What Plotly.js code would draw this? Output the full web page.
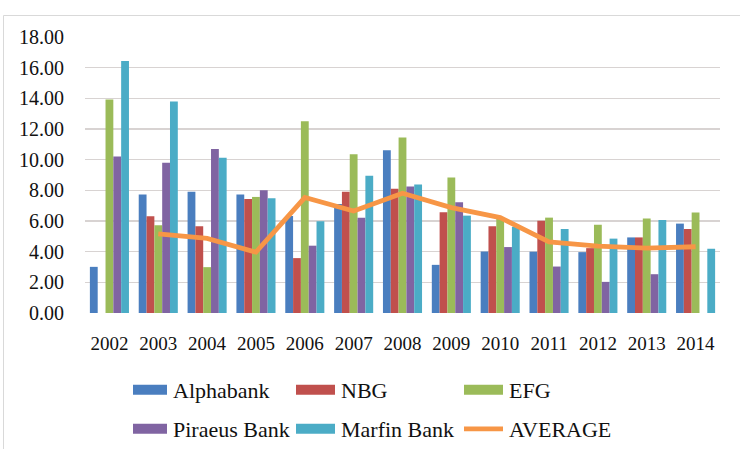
<!DOCTYPE html>
<html>
<head>
<meta charset="utf-8">
<script src="https://cdn.plot.ly/plotly-3.0.1.min.js"></script>
<style>
  html, body { margin: 0; padding: 0; background: #ffffff; }
  #chart { width: 740px; height: 449px; }
</style>
</head>
<body>
<div id="chart"></div>
<script>
const years = ['2002','2003','2004','2005','2006','2007','2008','2009','2010','2011','2012','2013','2014'];
const alphabank = [3.01, 7.73, 7.90, 7.73, 6.33, 7.11, 10.61, 3.14, 4.01, 4.00, 3.97, 4.93, 5.83];
const nbg       = [null, 6.31, 5.65, 7.44, 3.58, 7.90, 8.10, 6.57, 5.65, 6.02, 4.23, 4.93, 5.48];
const efg       = [13.92, 5.73, 2.99, 7.57, 12.50, 10.35, 11.44, 8.84, 6.16, 6.22, 5.76, 6.16, 6.55];
const piraeus   = [10.21, 9.80, 10.69, 8.01, 4.39, 6.22, 8.25, 7.22, 4.30, 3.03, 2.03, 2.53, null];
const marfin    = [16.43, 13.79, 10.13, 7.49, 5.98, 8.95, 8.38, 6.35, 5.63, 5.48, 4.85, 6.07, 4.19];
const average   = [null, 5.16, 4.87, 3.97, 7.53, 6.65, 7.81, 6.87, 6.22, 4.64, 4.36, 4.23, 4.32];
const yTicks = [0, 2, 4, 6, 8, 10, 12, 14, 16, 18];

const FONT = '"Liberation Serif"';

function barTrace(name, vals, color, legend) {
  return { type: 'bar', name: name, x: years, y: vals, marker: { color: color }, legend: legend, hoverinfo: 'x+y+name' };
}

const data = [
  barTrace('Alphabank', alphabank, '#4A7EBF', 'legend'),
  barTrace('NBG', nbg, '#C0504D', 'legend'),
  barTrace('EFG', efg, '#9BBB59', 'legend'),
  barTrace('Piraeus Bank', piraeus, '#8064A2', 'legend2'),
  barTrace('Marfin Bank', marfin, '#4BACC6', 'legend2'),
  { type: 'scatter', mode: 'lines', name: 'AVERAGE', x: years, y: average,
    line: { color: '#F79646', width: 4.8 }, connectgaps: false, legend: 'legend2' }
];

const legendCommon = {
  orientation: 'h', xref: 'container', yref: 'container', xanchor: 'left', yanchor: 'middle',
  entrywidth: 123, entrywidthmode: 'pixels', bgcolor: 'rgba(0,0,0,0)', borderwidth: 0,
  font: { family: FONT, size: 22, color: '#111111' }, traceorder: 'normal'
};

const layout = {
  width: 740, height: 449,
  paper_bgcolor: '#ffffff', plot_bgcolor: '#ffffff',
  margin: { l: 85, r: 20, t: 37, b: 136, autoexpand: false },
  barmode: 'group', bargap: 0.2, bargroupgap: 0,
  font: { family: FONT, color: '#111111' },
  showlegend: true,
  legend: Object.assign({}, legendCommon, { x: 133 / 740, y: 1 - 390 / 449 }),
  legend2: Object.assign({}, legendCommon, { x: 133 / 740, y: 1 - 429 / 449 }),
  xaxis: {
    type: 'category', showgrid: false, zeroline: false, showline: false, ticks: '',
    tickfont: { family: FONT, size: 19, color: '#111111' }, ticklabelstandoff: 17
  },
  yaxis: {
    range: [0, 18], tickvals: yTicks, ticktext: yTicks.map(v => v.toFixed(2)),
    showgrid: true, gridcolor: '#d8d3d2', gridwidth: 1.5, zeroline: false, showline: false, ticks: '',
    tickfont: { family: FONT, size: 20, color: '#111111' }, ticklabelstandoff: 20
  },
  shapes: [{
    type: 'rect', xref: 'paper', yref: 'paper',
    x0: (3.5 - 85) / 635, x1: (760 - 85) / 635,
    y0: (312 - 470) / 276, y1: (312 - 14.5) / 276,
    line: { color: '#d9d9d9', width: 1 }, fillcolor: 'rgba(0,0,0,0)', layer: 'below'
  }]
};

Plotly.newPlot('chart', data, layout, { displayModeBar: false, staticPlot: true }).then(function (gd) {
  gd.querySelectorAll('.infolayer .traces').forEach(function (tr) {
    tr.querySelectorAll('.legendpoints path').forEach(function (p) {
      p.setAttribute('transform', 'translate(0,0)');
      p.setAttribute('d', 'M-5,5H34V-5H-5Z');
    });
    tr.querySelectorAll('.legendlines path').forEach(function (p) {
      p.setAttribute('transform', 'translate(0,0)');
      p.setAttribute('d', 'M-5,0H34');
    });
  });
});
</script>
</body>
</html>
